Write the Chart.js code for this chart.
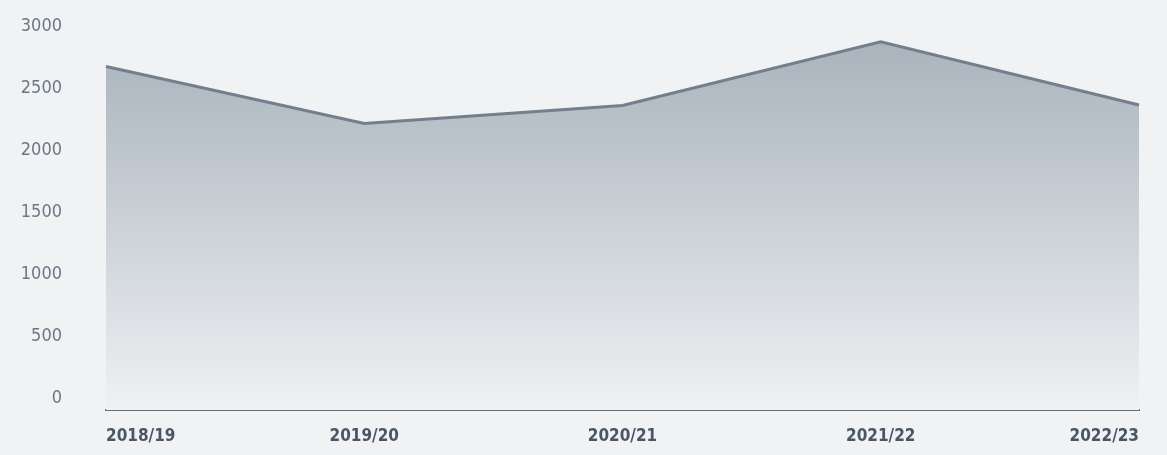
<!DOCTYPE html>
<html>
<head>
<meta charset="utf-8">
<script src="https://cdn.jsdelivr.net/npm/chart.js@4/dist/chart.umd.min.js"></script>
<style>
  html, body { margin: 0; padding: 0; background: #f0f2f4; }
  #wrap { width: 1167px; height: 455px; position: relative; }
</style>
</head>
<body>
<div id="wrap"><canvas id="c"></canvas></div>
<script>
const categories = ["2018/19", "2019/20", "2020/21", "2021/22", "2022/23"];
const values = [2770, 2310, 2455, 2970, 2460];
const yTicks = [0, 500, 1000, 1500, 2000, 2500, 3000];

const fontFam = '"DejaVu Sans Condensed", "Liberation Sans Narrow", sans-serif';

const ctx = document.getElementById('c').getContext('2d');
const chart = new Chart(ctx, {
  type: 'line',
  data: {
    labels: categories,
    datasets: [{
      data: values,
      borderColor: '#737f8a',
      borderWidth: 3,
      pointRadius: 0,
      tension: 0,
      fill: 'origin',
      backgroundColor: (context) => {
        const area = context.chart.chartArea;
        if (!area) return 'rgba(168,178,187,0.8)';
        const g = context.chart.ctx.createLinearGradient(0, area.top, 0, area.bottom);
        g.addColorStop(0, '#a9b3bc');
        g.addColorStop(0.5, '#cbd1d7');
        g.addColorStop(1, '#eff1f3');
        return g;
      }
    }]
  },
  options: {
    responsive: true,
    maintainAspectRatio: false,
    animation: false,
    layout: { padding: { left: 0, right: 28, top: 38, bottom: 0 } },
    plugins: { legend: { display: false }, tooltip: { enabled: false } },
    scales: {
      x: {
        offset: false,
        grid: { display: false, drawTicks: false },
        border: { display: true, color: '#5f6f7c', width: 2 },
        afterFit: (s) => { s.height = 45; },
        ticks: {
          align: 'inner',
          padding: 16,
          maxRotation: 0,
          autoSkip: false,
          color: '#4a5663',
          font: { family: fontFam, size: 17, weight: 'bold' }
        }
      },
      y: {
        min: 0,
        max: 3000,
        afterFit: (s) => { s.width = 106; },
        afterBuildTicks: (s) => { s.ticks = yTicks.map(v => ({ value: v })); },
        grid: { display: false, drawTicks: true, tickLength: 44 },
        border: { display: false },
        ticks: {
          padding: 0,
          labelOffset: -12,
          color: '#6b7884',
          font: { family: fontFam, size: 18 },
          callback: (v) => String(v)
        }
      }
    }
  }
});
</script>
</body>
</html>
